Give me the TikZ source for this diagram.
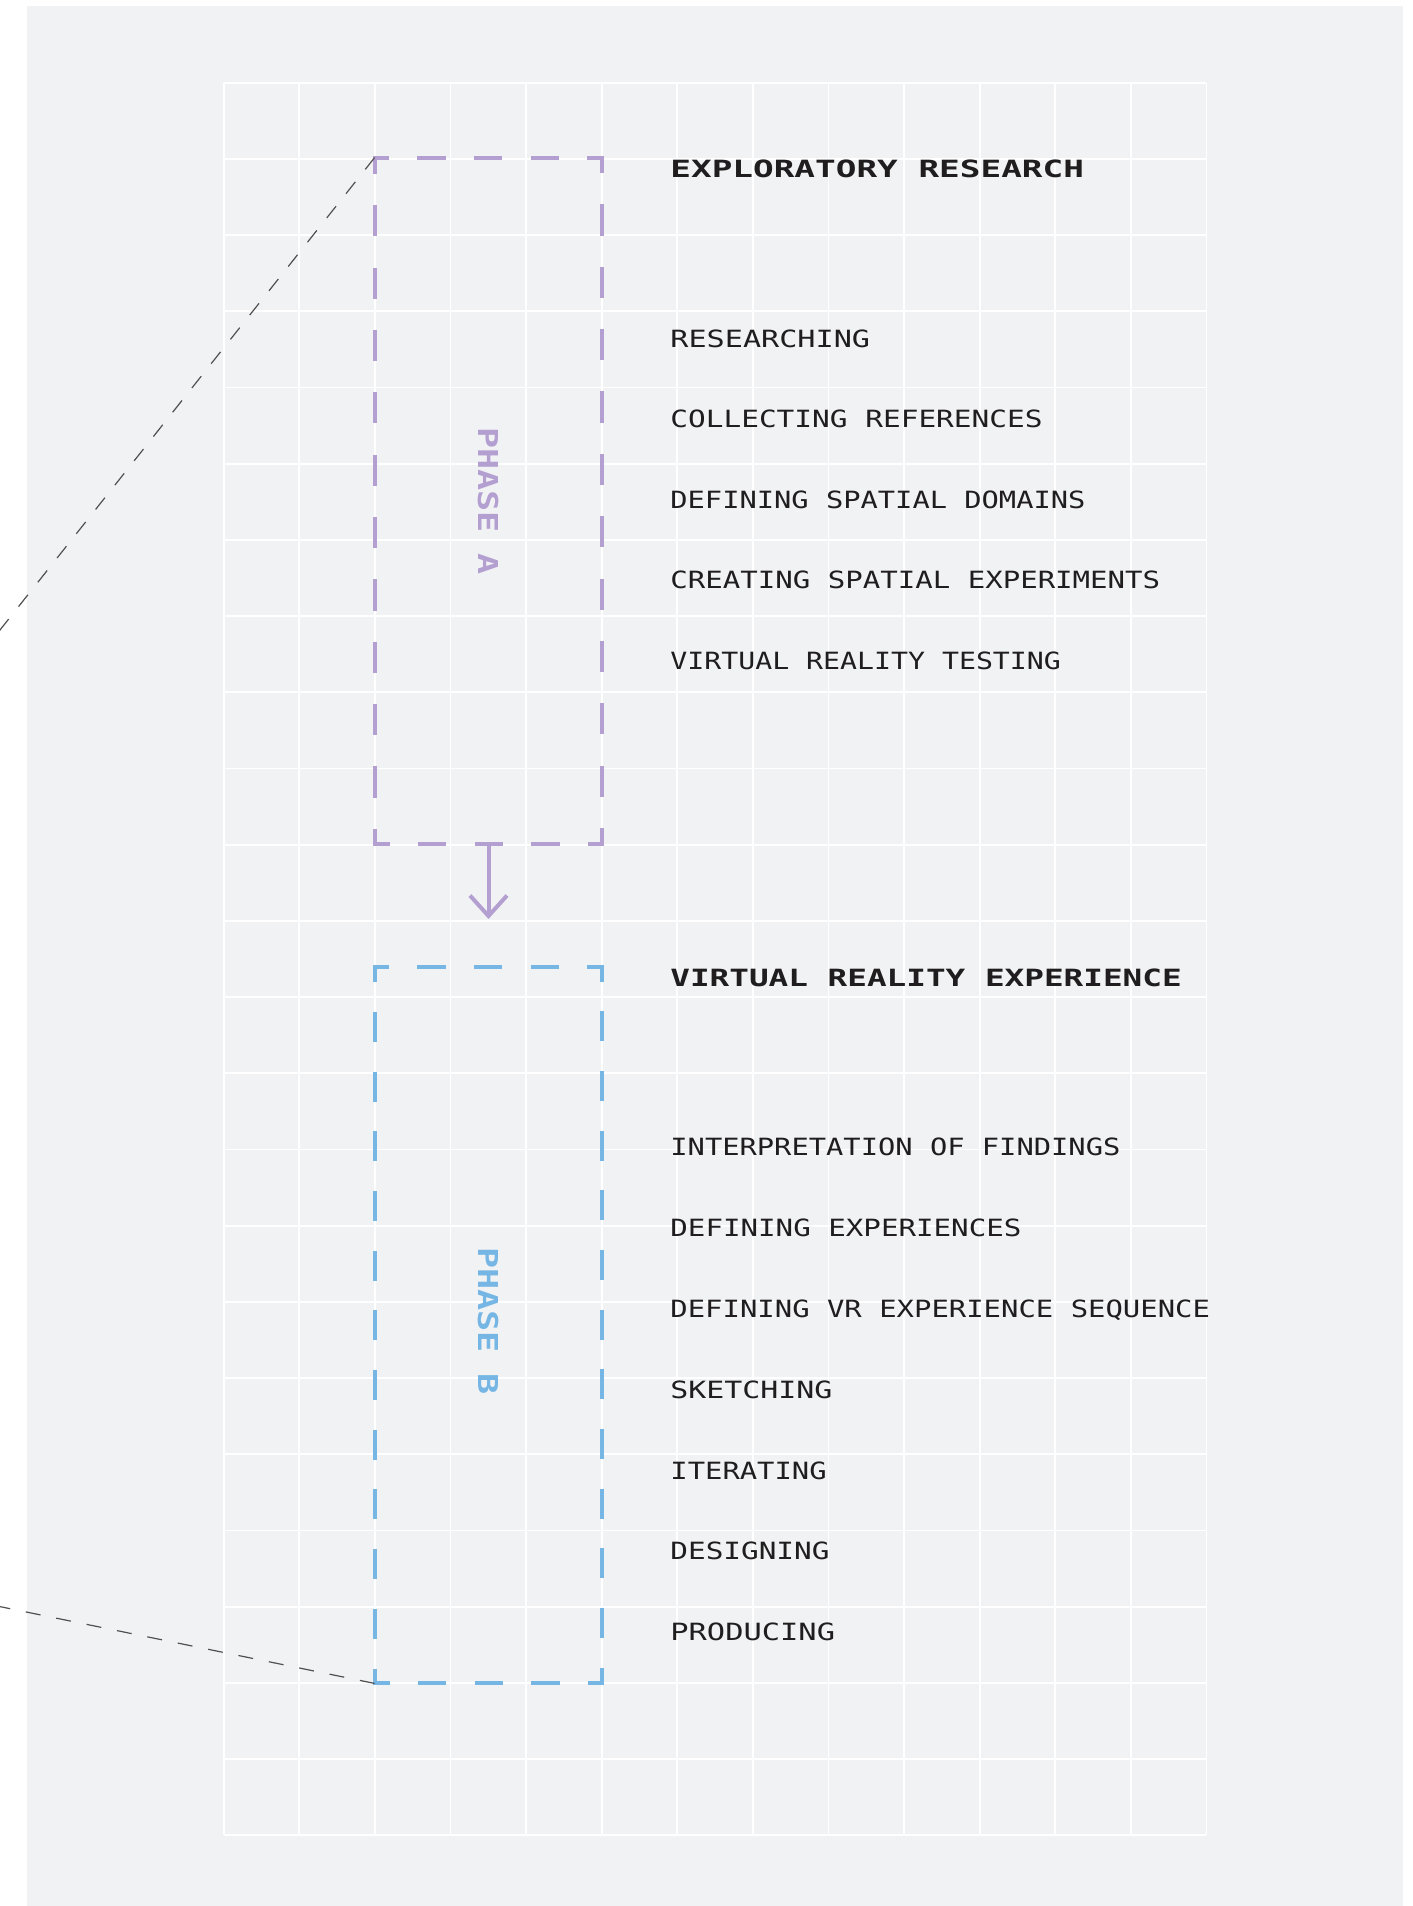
\documentclass[tikz,border=0pt]{standalone}
\usepackage{fontspec}
\usepackage{graphicx}
\newfontfamily\pixfont{DejaVu Sans Mono}
\definecolor{bgcol}{HTML}{F1F2F4}
\definecolor{phaseacol}{HTML}{B49FD1}
\definecolor{phasebcol}{HTML}{76B6E4}
\definecolor{txtcol}{HTML}{1F1D1E}
\definecolor{guidecol}{HTML}{505050}
\newcommand{\sx}[2]{\scalebox{#1}[1]{#2}}
\newcommand{\phs}[1]{\scalebox{1.28}[1]{#1}}
\tikzset{
  gridline/.style={white, line width=0.9pt},
  boxline/.style={line width=2pt, line cap=rect},
  hdash/.style={dash pattern=on 12.19pt off 16.19pt, dash phase=6.09pt},
  avdash/.style={dash pattern=on 13.59pt off 17.59pt, dash phase=6.80pt},
  bvdash/.style={dash pattern=on 12.92pt off 16.92pt, dash phase=6.46pt},
  boxnode/.style={inner sep=0pt, minimum width=113.5pt},
  guide/.style={guidecol, line width=0.6pt, dash pattern=on 7.5pt off 8pt},
  arrowline/.style={phaseacol, line width=2pt, line join=miter, line cap=butt},
  itemtext/.style={anchor=base west, inner sep=0pt, text=txtcol, font=\pixfont\fontsize{11.87pt}{14pt}\selectfont},
  titletext/.style={anchor=base west, inner sep=0pt, text=txtcol, font=\pixfont\bfseries\fontsize{11.87pt}{14pt}\selectfont},
  phasetext/.style={rotate=-90, inner sep=0pt, font=\pixfont\bfseries\fontsize{13.7pt}{16pt}\selectfont},
}
\begin{document}
\begin{tikzpicture}[x=0.5pt, y=-0.5pt]
\useasboundingbox (0,0) rectangle (1413,1906);
\fill[bgcol] (27,6) rectangle (1403,1906);
% grid
\foreach \i in {0,...,13} \draw[gridline] ({223.7+\i*75.6},82.7) -- ({223.7+\i*75.6},1835.3);
\foreach \j in {0,...,23} \draw[gridline] (223.7,{82.7+\j*76.2}) -- (1206.3,{82.7+\j*76.2});
% boxes
\node[boxnode, minimum height=343pt] (phaseA) at (488.5,501) {};
\node[boxnode, minimum height=358pt] (phaseB) at (488.5,1325) {};
\draw[boxline, phaseacol, hdash] (phaseA.north west) -- (phaseA.north east);
\draw[boxline, phaseacol, hdash] (phaseA.south east) -- (phaseA.south west);
\draw[boxline, phaseacol, avdash] (phaseA.north east) -- (phaseA.south east);
\draw[boxline, phaseacol, avdash] (phaseA.south west) -- (phaseA.north west);
\draw[boxline, phasebcol, hdash] (phaseB.north west) -- (phaseB.north east);
\draw[boxline, phasebcol, hdash] (phaseB.south east) -- (phaseB.south west);
\draw[boxline, phasebcol, bvdash] (phaseB.north east) -- (phaseB.south east);
\draw[boxline, phasebcol, bvdash] (phaseB.south west) -- (phaseB.north west);
% arrow
\coordinate (tipA) at (488.5,916);
\draw[arrowline] (phaseA.south) -- (tipA);
\draw[arrowline] ([xshift=-9.25pt, yshift=10.25pt]tipA) -- (tipA) -- ([xshift=9.25pt, yshift=10.25pt]tipA);
% guide lines
\coordinate (farA) at (-20,655.2);
\coordinate (farB) at (-20,1602.5);
\draw[guide] (phaseA.north west) -- (farA);
\draw[guide] (phaseB.south west) -- (farB);
% phase labels
\node[phasetext, text=phaseacol] (labA) at (488,501) {\phs{PHASE A}};
\node[phasetext, text=phasebcol] (labB) at (488,1321) {\phs{PHASE B}};
% texts phase A
\node[titletext] (tA) at (670,177.4) {\sx{1.447}{EXPLORATORY RESEARCH}};
\node[itemtext] (a1) at (670,347.4) {\sx{1.27}{RESEARCHING}};
\node[itemtext] (a2) at (670,427.8) {\sx{1.24}{COLLECTING REFERENCES}};
\node[itemtext] (a3) at (670,508.2) {\sx{1.21}{DEFINING SPATIAL DOMAINS}};
\node[itemtext] (a4) at (670,588.6) {\sx{1.224}{CREATING SPATIAL EXPERIMENTS}};
\node[itemtext] (a5) at (670,669.0) {\sx{1.188}{VIRTUAL REALITY TESTING}};
% texts phase B
\node[titletext] (tB) at (670,986.4) {\sx{1.376}{VIRTUAL REALITY EXPERIENCE}};
\node[itemtext] (b1) at (670,1155.4) {\sx{1.211}{INTERPRETATION OF FINDINGS}};
\node[itemtext] (b2) at (670,1236.3) {\sx{1.228}{DEFINING EXPERIENCES}};
\node[itemtext] (b3) at (670,1317.2) {\sx{1.218}{DEFINING VR EXPERIENCE SEQUENCE}};
\node[itemtext] (b4) at (670,1398.1) {\sx{1.26}{SKETCHING}};
\node[itemtext] (b5) at (670,1479.0) {\sx{1.215}{ITERATING}};
\node[itemtext] (b6) at (670,1559.9) {\sx{1.237}{DESIGNING}};
\node[itemtext] (b7) at (670,1640.8) {\sx{1.28}{PRODUCING}};
\end{tikzpicture}
\end{document}
